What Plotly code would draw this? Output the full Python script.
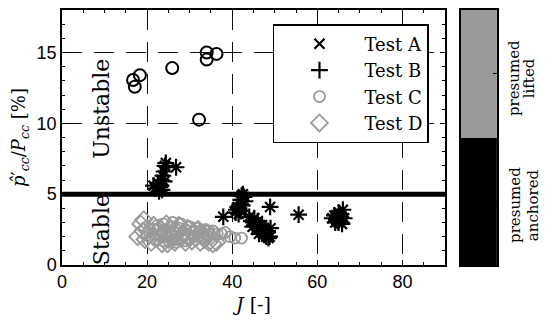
import plotly.graph_objects as go

# ---------------- data ----------------
# Test A / Test B (black, x and + overlaid -> asterisk look)
testA_J = [21.5, 22.0, 22.5, 23.0, 23.3, 23.7, 24.0, 24.2, 24.4, 24.0, 23.5, 22.8, 26.8,
           42.5, 42.8, 42.0, 41.8, 41.3, 41.0, 40.8, 41.5, 42.0, 42.3, 43.0, 42.2, 41.6, 37.9,
           44.0, 44.5, 45.0, 45.5, 46.0, 46.5, 47.0, 47.5, 48.0, 48.5, 45.2, 46.0, 47.0, 47.5,
           48.3, 44.8, 46.3, 48.9, 49.0, 48.8,
           55.6,
           63.5, 64.0, 64.5, 65.0, 65.5, 66.0, 65.0, 65.8, 64.2, 66.3, 65.3, 64.8]
testA_p = [5.6, 5.4, 5.8, 5.5, 6.0, 6.3, 6.6, 7.0, 7.2, 5.9, 5.3, 5.2, 6.9,
           5.0, 4.8, 4.6, 4.3, 4.1, 3.9, 3.7, 3.6, 3.8, 4.2, 4.5, 4.9, 4.0, 3.4,
           3.4, 3.1, 3.0, 2.8, 2.7, 2.5, 2.3, 2.2, 2.0, 1.9, 3.3, 3.1, 2.8, 2.6,
           2.4, 2.7, 2.2, 4.1, 2.6, 2.0,
           3.55,
           3.3, 3.5, 3.2, 3.7, 3.4, 3.9, 3.0, 2.9, 3.0, 3.3, 3.6, 3.4]
testB_J = list(testA_J)
testB_p = list(testA_p)

# Test C, presumed anchored (black circles, unstable region)
testC_anch_J = [16.7, 17.1, 18.3, 25.9, 34.0, 34.0, 36.3, 32.2]
testC_anch_p = [13.06, 12.58, 13.4, 13.9, 15.0, 14.5, 14.9, 10.26]

# Test C, presumed lifted (grey circles)
testC_J = [21.5, 22.5, 23.0, 23.8, 24.5, 25.0, 25.5, 26.0, 26.5, 27.0, 27.5, 28.0, 28.5,
           29.0, 29.5, 30.0, 30.5, 31.0, 31.5, 32.0, 32.5, 33.0, 33.5, 34.0, 34.5, 35.5,
           36.5, 37.5, 38.3, 39.5, 40.6, 42.2, 24.0, 26.8, 28.8]
testC_p = [2.5, 2.8, 2.1, 2.9, 2.4, 2.0, 2.7, 3.0, 2.3, 1.8, 2.6, 2.9, 2.2,
           2.5, 1.9, 2.7, 2.3, 2.0, 2.6, 2.2, 2.4, 1.9, 2.5, 2.1, 2.4, 2.4,
           2.2, 2.2, 2.3, 2.0, 1.9, 1.9, 1.7, 1.6, 1.7]

# Test D (grey diamonds)
testD_J = [17.8, 18.5, 19.0, 19.5, 20.0, 20.5, 21.0, 21.5, 22.0, 22.5, 23.0, 23.5, 24.0,
           24.5, 25.0, 25.5, 26.0, 26.5, 27.0, 27.5, 28.0, 28.5, 29.0, 29.5, 30.0, 30.5,
           31.0, 31.5, 32.0, 32.5, 33.0, 33.5, 34.0, 34.5, 35.0, 35.5, 36.3, 19.2, 21.8, 24.8]
testD_p = [2.0, 2.9, 2.4, 1.8, 2.6, 2.1, 1.6, 2.8, 2.3, 1.9, 2.6, 1.5, 2.2,
           2.9, 1.8, 2.5, 2.0, 1.6, 2.4, 2.8, 1.9, 2.2, 1.6, 2.6, 2.0, 1.7,
           2.3, 1.9, 2.5, 1.6, 2.1, 1.8, 2.3, 1.6, 2.0, 1.5, 1.6, 3.2, 1.9, 1.5]

threshold = 5
status_levels = [0, 1]            # 0 = presumed anchored, 1 = presumed lifted
status_labels = [["presumed", "anchored"], ["presumed", "lifted"]]

BLACK = "black"
GREY = "#9a9a9a"
SERIF = "DejaVu Serif"
SANS = "Liberation Sans"

fig = go.Figure()

fig.add_trace(go.Scatter(x=testA_J, y=testA_p, mode="markers", name="Test A",
                         marker=dict(symbol="x-thin-open", size=10, color=BLACK,
                                     line=dict(width=2.2, color=BLACK))))
fig.add_trace(go.Scatter(x=testB_J, y=testB_p, mode="markers", name="Test B",
                         marker=dict(symbol="cross-thin-open", size=12, color=BLACK,
                                     line=dict(width=2.2, color=BLACK))))
fig.add_trace(go.Scatter(x=testC_J, y=testC_p, mode="markers", name="Test C",
                         marker=dict(symbol="circle-open", size=11, color=GREY,
                                     line=dict(width=1.8, color=GREY))))
fig.add_trace(go.Scatter(x=testD_J, y=testD_p, mode="markers", name="Test D",
                         marker=dict(symbol="diamond-open", size=13, color=GREY,
                                     line=dict(width=1.8, color=GREY))))
fig.add_trace(go.Scatter(x=testC_anch_J, y=testC_anch_p, mode="markers", showlegend=False,
                         marker=dict(symbol="circle-open", size=12, color=BLACK,
                                     line=dict(width=2, color=BLACK))))

# status bar
fig.add_trace(go.Heatmap(z=[[status_levels[0]], [status_levels[1]]], x=[0], y=status_levels,
                         colorscale=[[0, BLACK], [1, GREY]], showscale=False,
                         xaxis="x2", yaxis="y2", hoverinfo="skip"))

fig.add_hline(y=threshold, line=dict(color=BLACK, width=5), layer="above")

for txt, xv, yv in [("Unstable", 9.3, 11.0), ("Stable", 9.3, 2.5)]:
    fig.add_annotation(x=xv, y=yv, text=txt, textangle=-90, showarrow=False,
                       font=dict(family=SERIF, size=22, color=BLACK))

# rotated two-line labels next to the status bar (one annotation per line)
label_y = {0: 0.235, 1: 0.733}
line_x = {0: [1.041, 1.083], 1: [1.039, 1.074]}
for lvl, lines in zip(status_levels, status_labels):
    for ln, xp in zip(lines, line_x[lvl]):
        fig.add_annotation(xref="paper", yref="paper", x=xp, y=label_y[lvl], text=ln,
                           textangle=-90, showarrow=False, xanchor="center", yanchor="middle",
                           font=dict(family=SERIF, size=15, color=BLACK))

axis_common = dict(showline=True, linecolor=BLACK, linewidth=1.5, mirror="allticks",
                   ticks="inside", ticklen=5, tickcolor=BLACK, tickwidth=1.2,
                   showgrid=True, gridcolor="#111", gridwidth=1.4, griddash="20px,12px",
                   zeroline=False, automargin=False,
                   tickfont=dict(family=SANS, size=18, color=BLACK))

fig.update_layout(
    width=550, height=329,
    margin=dict(l=62, r=53, t=10, b=64),
    paper_bgcolor="white", plot_bgcolor="white",
    showlegend=True,
    legend=dict(x=0.485, y=0.945, xanchor="left", yanchor="top",
                bordercolor=BLACK, borderwidth=1.5, bgcolor="white", itemwidth=80,
                font=dict(family=SERIF, size=18, color=BLACK), tracegroupgap=0),
    xaxis=dict(domain=[0, 0.8805], range=[0, 90], tickvals=[0, 20, 40, 60, 80],
               minor=dict(ticks="inside", dtick=5, ticklen=3, tickcolor=BLACK, showgrid=False),
               title=dict(text="<i>J</i> [-]", font=dict(family=SERIF, size=19, color=BLACK),
                          standoff=6),
               **axis_common),
    yaxis=dict(range=[0, 18], tickvals=[0, 5, 10, 15],
               minor=dict(ticks="inside", dtick=1, ticklen=3, tickcolor=BLACK, showgrid=False),
               title=dict(text="<i>p̂</i>′<sub><i>cc</i></sub>/<i>P</i><sub><i>cc</i></sub> [%]",
                          font=dict(family=SERIF, size=18, color=BLACK), standoff=6),
               **axis_common),
    xaxis2=dict(domain=[0.917, 1.0], range=[-0.5, 0.5], showticklabels=False, ticks="",
                showline=True, linecolor=BLACK, linewidth=1.5, mirror=True, automargin=False,
                showgrid=False, zeroline=False, anchor="y2"),
    yaxis2=dict(domain=[0, 1], range=[-0.5, 1.5], anchor="x2", side="right",
                tickvals=status_levels, ticks="inside", ticklen=4, tickcolor=BLACK,
                showticklabels=False, showline=True, linecolor=BLACK, linewidth=1.5,
                automargin=False, mirror=True, showgrid=False, zeroline=False),
)

fig.write_html("out.html", config={"displayModeBar": False},
               post_script="document.body.style.margin='0';document.body.style.overflow='hidden';")
